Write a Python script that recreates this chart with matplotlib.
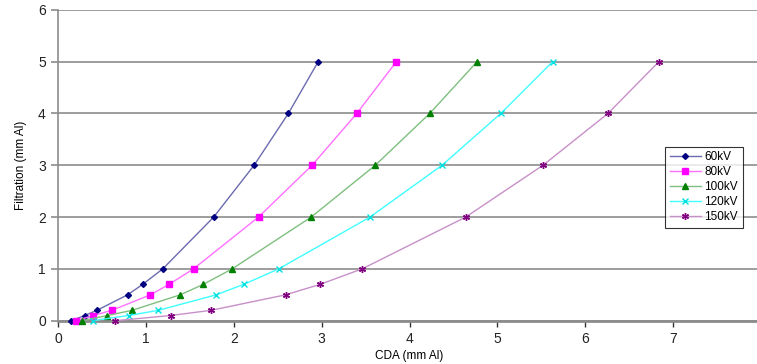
import matplotlib
matplotlib.use('Agg')
import matplotlib.pyplot as plt

# filtration levels (mm Al) measured for each tube voltage
filtration = [0, 0.1, 0.2, 0.5, 0.7, 1, 2, 3, 4, 5]

# CDA (mm Al) per voltage
cda_60 = [0.15, 0.30, 0.44, 0.79, 0.96, 1.19, 1.77, 2.23, 2.62, 2.96]
cda_80 = [0.20, 0.40, 0.61, 1.05, 1.26, 1.54, 2.28, 2.89, 3.40, 3.85]
cda_100 = [0.27, 0.56, 0.84, 1.39, 1.65, 1.98, 2.88, 3.61, 4.23, 4.77]
cda_120 = [0.39, 0.80, 1.14, 1.80, 2.11, 2.51, 3.55, 4.37, 5.04, 5.63]
cda_150 = [0.65, 1.28, 1.74, 2.59, 2.98, 3.46, 4.64, 5.52, 6.26, 6.84]

labels = ['60kV', '80kV', '100kV', '120kV', '150kV']
series = [cda_60, cda_80, cda_100, cda_120, cda_150]

# (line colour, marker colour, marker, marker size)
styles = [('#6b6bb0', '#000080', 'D', 3),
          ('#ff70ff', '#ff00ff', 's', 4.5),
          ('#7fbf7f', '#008000', '^', 4.5),
          ('#40ffff', '#00e0e0', 'x', 4.5),
          ('#c890c8', '#800080', (6, 2, 0), 5)]

plt.rcParams['font.family'] = ['Liberation Sans', 'DejaVu Sans']

fig = plt.figure(figsize=(7.57, 3.64), dpi=100)
ax = fig.add_axes([0.077, 0.119, 0.928, 0.854])

for cda, label, (lc, mc, mk, ms) in zip(series, labels, styles):
    ax.plot(cda, filtration, color=lc, lw=1, marker=mk, ms=ms,
            mfc=mc, mec=mc, mew=1, label=label, clip_on=False, zorder=3)

ax.set_xlim(0, 8)
ax.set_ylim(0, 6)
ax.set_xticks(range(0, 8))
ax.set_yticks(range(0, 7))
ax.grid(axis='y', color='#8c8c8c', lw=1.2)
ax.set_axisbelow(True)

for side in ['top', 'right']:
    ax.spines[side].set_visible(False)
ax.spines['left'].set_color('#8c8c8c')
ax.spines['left'].set_linewidth(1.2)
ax.spines['bottom'].set_color('#8c8c8c')
ax.spines['bottom'].set_linewidth(2)
ax.tick_params(axis='y', length=5, width=1.2, color='#8c8c8c', labelsize=10,
               labelcolor='#222222', pad=4)
ax.tick_params(axis='x', length=4, width=1, color='#333333', labelsize=10,
               labelcolor='#222222', pad=4)

ax.set_xlabel('CDA (mm Al)', fontsize=8.5, labelpad=3)
ax.set_ylabel('Filtration (mm Al)', fontsize=8.5, labelpad=8)

leg = ax.legend(loc='upper left', bbox_to_anchor=(0.864, 0.56), fontsize=8.5,
                frameon=True, fancybox=False, handlelength=2.6, handletextpad=0.3,
                borderpad=0.4, labelspacing=0.25, borderaxespad=0)
leg.get_frame().set_edgecolor('black')
leg.get_frame().set_linewidth(0.8)

plt.savefig('out.png', dpi=100)
plt.close()
